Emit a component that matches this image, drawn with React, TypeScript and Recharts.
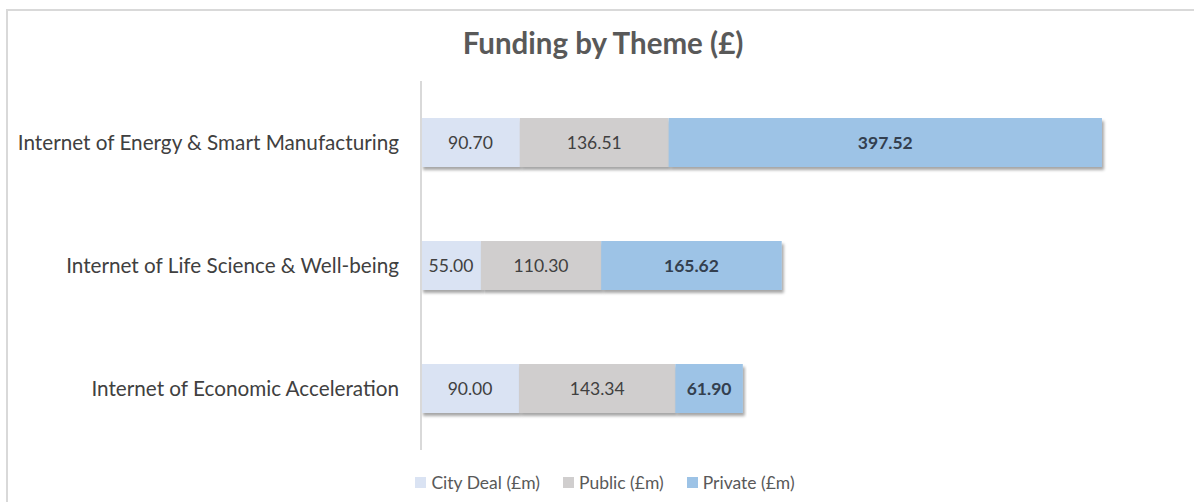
import { BarChart, Bar, XAxis, YAxis, Legend, LabelList } from 'recharts';

const themes = [
  'Internet of Energy & Smart Manufacturing',
  'Internet of Life Science & Well-being',
  'Internet of Economic Acceleration',
];
const cityDeal = [90.7, 55.0, 90.0];
const publicFunds = [136.51, 110.3, 143.34];
const privateFunds = [397.52, 165.62, 61.9];
const seriesNames = ['City Deal (£m)', 'Public (£m)', 'Private (£m)'];
const seriesColors = ['#dae3f3', '#d0cece', '#9dc3e6'];

const data = themes.map((name, i) => ({
  name,
  cityDeal: cityDeal[i],
  public: publicFunds[i],
  private: privateFunds[i],
}));

const font = 'Lato, "Open Sans", sans-serif';
const fmt = (v: any) => Number(v).toFixed(2);

function LegendContent() {
  return (
    <div style={{ display: 'flex', justifyContent: 'center', gap: 23, fontSize: 17.5, fontFamily: font, color: '#595959', paddingLeft: 16 }}>
      {seriesNames.map((n, i) => (
        <div key={n} style={{ display: 'flex', alignItems: 'center' }}>
          <span style={{ display: 'inline-block', width: 11, height: 11, background: seriesColors[i], marginRight: 5 }} />
          <span>{n}</span>
        </div>
      ))}
    </div>
  );
}

export default function App() {
  return (
    <div style={{ position: 'absolute', left: 0, top: 0, width: 1194, height: 502, background: '#fff', overflow: 'hidden', fontFamily: font }}>
      <div style={{ position: 'absolute', left: 6, top: 9, width: 1200, height: 500, border: '2px solid #d9d9d9' }} />
      <div style={{ position: 'absolute', left: 0, width: 1206, top: 25, textAlign: 'center', fontSize: 29.5, fontWeight: 700, color: '#595959' }}>
        Funding by Theme (£)
      </div>
      <div style={{ position: 'absolute', left: 0, top: 0 }}>
        <BarChart
          width={1194}
          height={502}
          data={data}
          layout="vertical"
          margin={{ top: 81, right: 10, left: 0, bottom: 28 }}
          barSize={49}
        >
          <defs>
            <filter id="shadow" x="-5%" y="-20%" width="110%" height="150%">
              <feDropShadow dx="2" dy="3" stdDeviation="1.5" floodColor="#000" floodOpacity="0.35" />
            </filter>
          </defs>
          <XAxis type="number" domain={[0, 700]} hide />
          <YAxis
            type="category"
            dataKey="name"
            width={421}
            tickLine={false}
            tickSize={0}
            tickMargin={22}
            axisLine={{ stroke: '#d9d9d9', strokeWidth: 2 }}
            tick={{ fill: '#404040', fontSize: 20.7, fontFamily: font }}
          />
          <Legend
            verticalAlign="bottom"
            content={<LegendContent />}
            wrapperStyle={{ top: 472, left: 0, width: 1194, height: 24 }}
          />
          <Bar dataKey="cityDeal" name={seriesNames[0]} stackId="a" fill={seriesColors[0]} filter="url(#shadow)" isAnimationActive={false}>
            <LabelList dataKey="cityDeal" position="center" formatter={fmt} fill="#404040" fontSize={17.5} fontFamily={font} />
          </Bar>
          <Bar dataKey="public" name={seriesNames[1]} stackId="a" fill={seriesColors[1]} filter="url(#shadow)" isAnimationActive={false}>
            <LabelList dataKey="public" position="center" formatter={fmt} fill="#404040" fontSize={17.5} fontFamily={font} />
          </Bar>
          <Bar dataKey="private" name={seriesNames[2]} stackId="a" fill={seriesColors[2]} filter="url(#shadow)" isAnimationActive={false}>
            <LabelList dataKey="private" position="center" formatter={fmt} fill="#333f4f" fontSize={17.5} fontWeight={700} fontFamily={font} />
          </Bar>
        </BarChart>
      </div>
    </div>
  );
}
